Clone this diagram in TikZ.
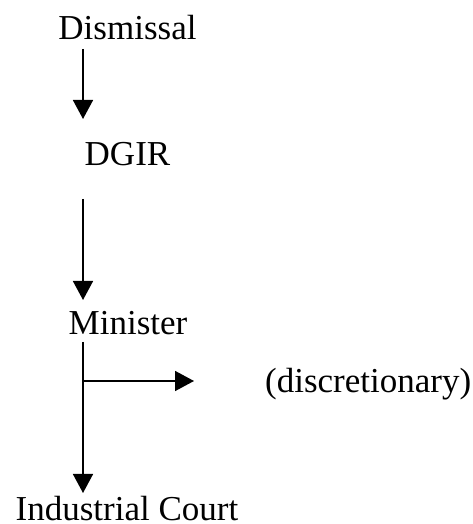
\documentclass[tikz,border=0pt]{standalone}
\usepackage{fontspec}
\setmainfont{Liberation Serif}
\usepackage{tikz}
\usetikzlibrary{arrows.meta,calc}
\tikzset{
  fc diagram/.style={x=1pt, y=1pt, font=\fontsize{35}{42}\selectfont,
    line cap=butt, line join=miter},
  fc label/.style={inner sep=0pt, anchor=base},
  fc arrow/.style={-{Triangle[length=19pt,width=20pt]}, line width=1.6pt}
}

\begin{document}
\begin{tikzpicture}[fc diagram]
\useasboundingbox (0,0) rectangle (472,524);
\coordinate (axis) at (83,0);
\node[fc label] (dismissal) at (127.5,484) {Dismissal};
\node[fc label] (dgir) at (127.5,358) {DGIR};
\node[fc label] (minister) at (128,189) {Minister};
\node[fc label, anchor=base west] (disc) at (265,131) {(discretionary)};
\node[fc label] (court) at (127,4) {Industrial Court};
\coordinate (split) at ($(minister.base -| axis)+(0,-46)$);
\coordinate (split end) at ($(disc.base west)+(-71,12)$);
\draw[fc arrow] ($(dismissal.base -| axis)+(0,-9)$) -- ($(dgir.base -| axis)+(0,47)$);
\draw[fc arrow] ($(dgir.base -| axis)+(0,-33)$) -- ($(minister.base -| axis)+(0,35)$);
\draw[fc arrow] ($(minister.base -| axis)+(0,-7)$) -- ($(court.base -| axis)+(0,27)$);
\draw[fc arrow] (split) -- (split end);
\end{tikzpicture}
\end{document}
